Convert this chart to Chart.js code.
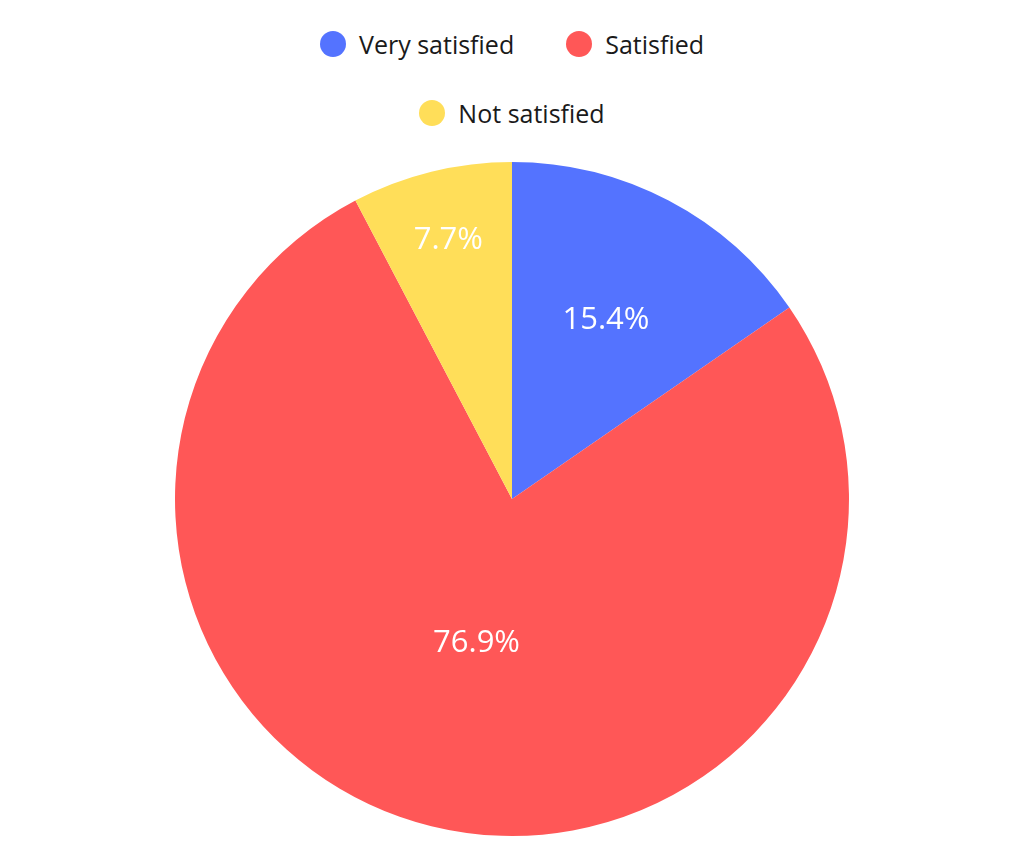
<!DOCTYPE html>
<html><head><meta charset="utf-8">
<script src="https://cdn.jsdelivr.net/npm/chart.js@4/dist/chart.umd.min.js"></script>
<style>
html,body{margin:0;background:#fff;font-family:"Open Sans",sans-serif}
#legend{height:145px;box-sizing:border-box;padding-top:25px;display:flex;flex-wrap:wrap;justify-content:center;align-content:flex-start;width:460px;margin:0 auto;column-gap:52px;row-gap:31px}
.item{display:flex;align-items:center;height:38px;font-size:25px;color:#1a1a1a}
.dot{width:26px;height:26px;border-radius:50%;margin-right:13px}
#w{width:1024px;height:713px}
</style>
</head><body><div id="legend"></div><div id="w"><canvas id="c"></canvas></div>
<script>
const categories = ["Very satisfied", "Satisfied", "Not satisfied"];
const values = [2, 10, 1];
const percentLabels = ["15.4%", "76.9%", "7.7%"];
const colors = ["#5473FF", "#FF5757", "#FFDE59"];
const labelRadius = [0.6, 0.44, 0.79];

const lg = document.getElementById('legend');
categories.forEach((c, i) => {
  const d = document.createElement('div'); d.className = 'item';
  d.innerHTML = '<span class="dot" style="background:' + colors[i] + '"></span><span></span>';
  d.lastChild.textContent = c; lg.appendChild(d);
});

const labelPlugin = {
  id: 'sliceLabels',
  afterDatasetsDraw(chart) {
    const ctx = chart.ctx;
    const meta = chart.getDatasetMeta(0);
    ctx.save();
    ctx.fillStyle = '#fff';
    ctx.font = '31px "Open Sans"';
    ctx.textAlign = 'center';
    ctx.textBaseline = 'middle';
    meta.data.forEach((arc, i) => {
      const p = arc.getProps(['x','y','startAngle','endAngle','outerRadius'], true);
      const a = (p.startAngle + p.endAngle) / 2;
      const r = p.outerRadius * labelRadius[i];
      ctx.fillText(percentLabels[i], p.x + Math.cos(a) * r, p.y + Math.sin(a) * r);
    });
    ctx.restore();
  }
};

new Chart(document.getElementById('c'), {
  type: 'pie',
  data: { labels: categories, datasets: [{ data: values, backgroundColor: colors, borderWidth: 0 }] },
  options: {
    responsive: true, maintainAspectRatio: false, animation: false,
    layout: { padding: { bottom: 22, top: 17 } },
    plugins: { tooltip: { enabled: false }, legend: { display: false } }
  },
  plugins: [labelPlugin]
});
</script></body></html>
